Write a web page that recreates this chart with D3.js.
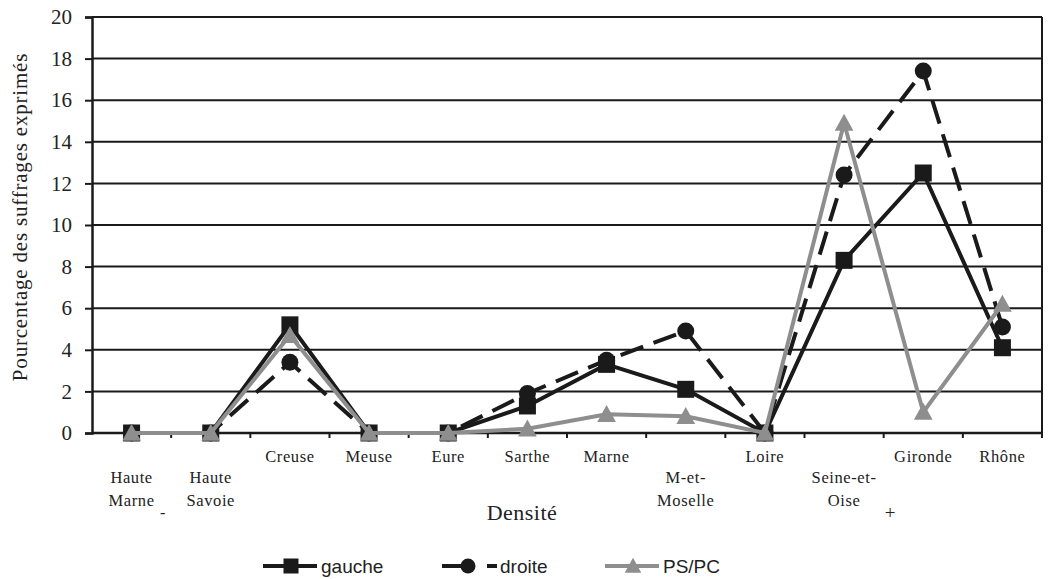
<!DOCTYPE html>
<html>
<head>
<meta charset="utf-8">
<script src="https://cdn.jsdelivr.net/npm/d3@7"></script>
<style>
  body { margin: 0; background: #fff; }
  svg text { font-family: "Liberation Serif", "Times New Roman", Times, serif; fill: #222; }
  .legend text { font-family: "Liberation Sans", Arial, sans-serif; }
</style>
</head>
<body>
<div id="vis-container"></div>
<script>
// departements, ordered by density
var categories = ['Haute Marne', 'Haute Savoie', 'Creuse', 'Meuse', 'Eure', 'Sarthe', 'Marne',
                  'M-et-Moselle', 'Loire', 'Seine-et-Oise', 'Gironde', 'Rhône']
var tickLines = [['Haute', 'Marne'], ['Haute', 'Savoie'], ['Creuse'], ['Meuse'], ['Eure'], ['Sarthe'],
                 ['Marne'], ['M-et-', 'Moselle'], ['Loire'], ['Seine-et-', 'Oise'], ['Gironde'], ['Rhône']]
var gauche = [0, 0, 5.2, 0, 0, 1.3, 3.3, 2.1, 0, 8.3, 12.5, 4.1]
var droite = [0, 0, 3.4, 0, 0, 1.9, 3.5, 4.9, 0, 12.4, 17.4, 5.1]
var pspc   = [0, 0, 4.7, 0, 0, 0.2, 0.9, 0.8, 0, 14.9, 1.0, 6.2]
var yTicks = [0, 2, 4, 6, 8, 10, 12, 14, 16, 18, 20]

var series = [
  { name: 'gauche', values: gauche, color: '#1a1a1a', dash: null, marker: 'square' },
  { name: 'droite', values: droite, color: '#1a1a1a', dash: '24,11', marker: 'circle' },
  { name: 'PS/PC', values: pspc, color: '#8e8e8e', dash: null, marker: 'triangle' }
]

var W = 1048, H = 579
var margin = { top: 17, right: 6, bottom: 146, left: 92 }
var w = W - margin.left - margin.right
var h = H - margin.top - margin.bottom

var svg = d3.select('#vis-container').append('svg')
    .attr('width', W)
    .attr('height', H)
var g = svg.append('g')
    .attr('transform', 'translate(' + margin.left + ',' + margin.top + ')')

var xScale = d3.scaleBand().domain(categories).range([0, w]).padding(0)
var yScale = d3.scaleLinear().domain([0, 20]).range([h, 0])
var cx = function (i) { return xScale(categories[i]) + xScale.bandwidth() / 2 }

// gridlines
g.selectAll('.grid')
    .data(yTicks.filter(function (d) { return d > 0 }))
    .enter()
  .append('line')
    .attr('x1', 0).attr('x2', w)
    .attr('y1', function (d) { return yScale(d) })
    .attr('y2', function (d) { return yScale(d) })
    .attr('stroke', '#1a1a1a')
    .attr('stroke-width', 2)
// right border
g.append('line')
    .attr('x1', w).attr('x2', w).attr('y1', 0).attr('y2', h)
    .attr('stroke', '#1a1a1a').attr('stroke-width', 2)

// y axis
var yAxis = g.append('g')
    .attr('font-family', '"Liberation Serif", "Times New Roman", serif')
    .call(d3.axisLeft(yScale).tickValues(yTicks).tickSize(7).tickPadding(13).tickFormat(d3.format('d')))
yAxis.select('.domain').attr('stroke', '#1a1a1a').attr('stroke-width', 2.5)
yAxis.selectAll('.tick line').attr('stroke', '#1a1a1a').attr('stroke-width', 2)
yAxis.selectAll('.tick text').style('font-size', '21px').attr('fill', '#222')

// x axis (ticks between categories)
var xBounds = d3.range(1, categories.length + 1).map(function (i) { return i * xScale.bandwidth() })
g.append('line')
    .attr('x1', 0).attr('x2', w).attr('y1', h).attr('y2', h)
    .attr('stroke', '#1a1a1a').attr('stroke-width', 2.5)
g.selectAll('.xtick')
    .data(xBounds)
    .enter()
  .append('line')
    .attr('x1', function (d) { return d }).attr('x2', function (d) { return d })
    .attr('y1', h).attr('y2', h + 5)
    .attr('stroke', '#1a1a1a').attr('stroke-width', 2)

// category labels: single lines sit high, wrapped ones drop lower
var labels = g.selectAll('.xlabel')
    .data(tickLines)
    .enter()
  .append('text')
    .attr('text-anchor', 'middle')
    .style('font-size', '16.5px')
    .style('letter-spacing', '0.6px')
    .attr('transform', function (d, i) { return 'translate(' + cx(i) + ',' + (d.length > 1 ? h + 50 : h + 29) + ')' })
labels.selectAll('tspan')
    .data(function (d) { return d })
    .enter()
  .append('tspan')
    .attr('x', 0)
    .attr('dy', function (d, j) { return j === 0 ? 0 : 23 })
    .text(function (d) { return d })

// axis titles
g.append('text')
    .attr('x', 430).attr('y', h + 87)
    .attr('text-anchor', 'middle')
    .style('font-size', '22px')
    .style('letter-spacing', '0.5px')
    .text('Densité')
g.append('text')
    .attr('x', 68).attr('y', h + 85)
    .style('font-size', '16px')
    .text('-')
g.append('text')
    .attr('x', 798).attr('y', h + 86)
    .attr('text-anchor', 'middle')
    .style('font-size', '19px')
    .text('+')
svg.append('text')
    .attr('transform', 'translate(27,217) rotate(-90)')
    .attr('text-anchor', 'middle')
    .style('font-size', '21px')
    .style('letter-spacing', '0.8px')
    .text('Pourcentage des suffrages exprimés')

// markers
function drawMarker(sel, type, color, size) {
  if (type === 'square') {
    sel.append('rect')
      .attr('x', -size / 2).attr('y', -size / 2)
      .attr('width', size).attr('height', size)
      .attr('fill', color)
  } else if (type === 'circle') {
    sel.append('circle').attr('r', size / 2).attr('fill', color)
  } else {
    sel.append('path')
      .attr('d', 'M0,' + (-size * 0.55) + 'L' + (size * 0.55) + ',' + (size * 0.45) + 'L' + (-size * 0.55) + ',' + (size * 0.45) + 'Z')
      .attr('fill', color)
  }
}

var line = d3.line()
    .x(function (d, i) { return cx(i) })
    .y(function (d) { return yScale(d) })

series.forEach(function (s) {
  g.append('path')
      .datum(s.values)
      .attr('d', line)
      .attr('fill', 'none')
      .attr('stroke', s.color)
      .attr('stroke-width', 4)
      .attr('stroke-dasharray', s.dash)
  g.selectAll('.m-' + s.marker)
      .data(s.values)
      .enter()
    .append('g')
      .attr('transform', function (d, i) { return 'translate(' + cx(i) + ',' + yScale(d) + ')' })
      .each(function () { drawMarker(d3.select(this), s.marker, s.color, 17) })
})

// legend
var legendX = [263, 442, 605]
var legend = svg.append('g').attr('class', 'legend')
series.forEach(function (s, i) {
  var lg = legend.append('g').attr('transform', 'translate(' + legendX[i] + ',566)')
  if (s.dash) {
    lg.append('line').attr('x1', 0).attr('x2', 24).attr('y1', 0).attr('y2', 0)
      .attr('stroke', s.color).attr('stroke-width', 4)
    lg.append('line').attr('x1', 45).attr('x2', 55).attr('y1', 0).attr('y2', 0)
      .attr('stroke', s.color).attr('stroke-width', 4)
    drawMarker(lg.append('g').attr('transform', 'translate(26,0)'), s.marker, s.color, 15)
  } else {
    lg.append('line').attr('x1', 0).attr('x2', 54).attr('y1', 0).attr('y2', 0)
      .attr('stroke', s.color).attr('stroke-width', 4)
    drawMarker(lg.append('g').attr('transform', 'translate(28,0)'), s.marker, s.color, 15)
  }
  lg.append('text')
      .attr('x', 58).attr('y', 7)
      .style('font-size', '19px')
      .text(s.name)
})
</script>
</body>
</html>
